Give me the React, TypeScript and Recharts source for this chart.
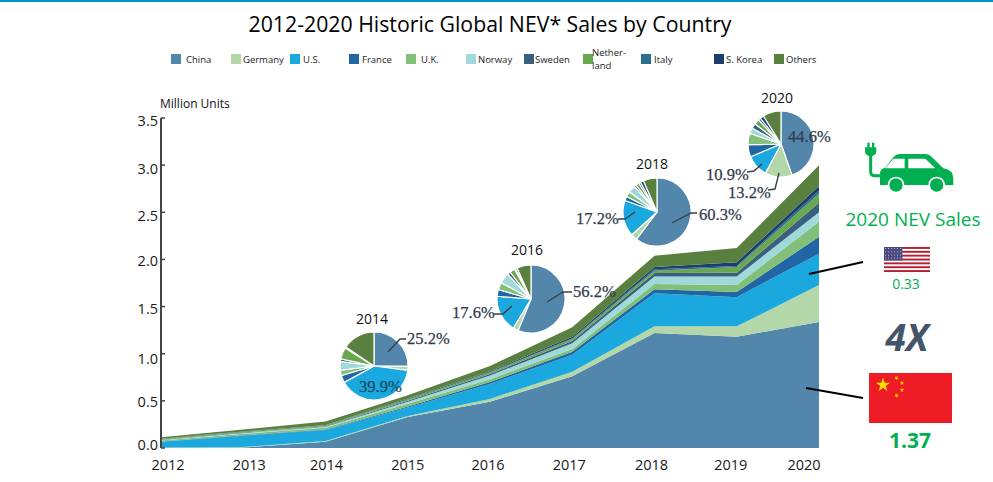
import React from "react";
import { AreaChart, Area, XAxis, YAxis, PieChart, Pie, Cell } from "recharts";

const years = ["2012", "2013", "2014", "2015", "2016", "2017", "2018", "2019", "2020"];
const seriesNames = ["China", "Germany", "U.S.", "France", "U.K.", "Norway", "Sweden", "Nether-land", "Italy", "S. Korea", "Others"];
const seriesColors = ["#5286ab", "#b3d7a8", "#1ba8de", "#2166a4", "#82bf79", "#9fd9d9", "#3a5f80", "#6aa84f", "#26708f", "#1d3f6e", "#5a8040"];

const china = [0.002, 0.005, 0.065, 0.33, 0.49, 0.76, 1.22, 1.18, 1.336];
const germany = [0.003, 0.005, 0.01, 0.01, 0.03, 0.05, 0.07, 0.11, 0.394];
const us = [0.06, 0.12, 0.115, 0.09, 0.16, 0.18, 0.35, 0.31, 0.33];
const france = [0.003, 0.005, 0.005, 0.01, 0.02, 0.03, 0.045, 0.055, 0.18];
const uk = [0.012, 0.015, 0.02, 0.03, 0.03, 0.03, 0.055, 0.075, 0.16];
const norway = [0.005, 0.01, 0.01, 0.02, 0.04, 0.06, 0.08, 0.09, 0.1];
const sweden = [0.003, 0.005, 0.005, 0.01, 0.015, 0.025, 0.035, 0.04, 0.1];
const netherland = [0.007, 0.005, 0.01, 0.015, 0.015, 0.02, 0.025, 0.06, 0.1];
const italy = [0.002, 0.002, 0.002, 0.005, 0.005, 0.01, 0.015, 0.01, 0.03];
const korea = [0.002, 0.003, 0.003, 0.005, 0.01, 0.015, 0.025, 0.04, 0.05];
const others = [0.016, 0.02, 0.035, 0.035, 0.055, 0.1, 0.12, 0.15, 0.22];
const allSeries = [china, germany, us, france, uk, norway, sweden, netherland, italy, korea, others];

const yTicks = [0, 0.5, 1, 1.5, 2, 2.5, 3, 3.5];

const share2014 = [25.2, 1.9, 39.9, 3.5, 2.5, 4.2, 1.2, 5.5, 0.3, 0.3, 15.5];
const share2016 = [56.2, 2.5, 17.6, 3.2, 3.5, 5, 1.5, 2.5, 0.5, 0.8, 6.7];
const share2018 = [60.3, 3, 17.2, 2, 2.5, 3.5, 1, 1.5, 1, 1.5, 6.5];
const share2020 = [44.6, 13.2, 10.9, 6, 5.5, 2.8, 2.5, 2.6, 1.2, 1.8, 8.9];

const usSales2020 = "0.33";
const chinaSales2020 = "1.37";

const rows = years.map((year, i) => {
  const row: Record<string, string | number> = { year };
  seriesNames.forEach((name, s) => { row[name] = allSeries[s][i]; });
  return row;
});

const SANS = "'Open Sans', sans-serif";
const SERIF = "'Liberation Serif', serif";
const GREEN = "#00b050";
const NOTE = "#333c4e";

const xLabelShift = [7, 6, 1, 0, -2, -3, -3, -6, -15];
const yLabelShift = [-3, 1, 5, 2, 2, 4, 4, 3];

const XTick = ({ x, y, payload, index }: any) => (
  <text x={x + xLabelShift[index]} y={y + 14} textAnchor="middle" fontSize={14.5} fontFamily={SANS} fill="#1a1a1a">
    {payload.value}
  </text>
);

const YTick = ({ x, y, payload, index }: any) => (
  <g>
    <line x1={x} x2={x + 4} y1={y} y2={y} stroke="#444" strokeWidth={1.5} />
    <text x={x - 3} y={y + yLabelShift[index]} dy={5} textAnchor="end" fontSize={14.5} fontFamily={SANS} fill="#1a1a1a">
      {Number(payload.value).toFixed(1)}
    </text>
  </g>
);

const MiniPie = ({ shares, cx, cy, r }: { shares: number[]; cx: number; cy: number; r: number }) => {
  const size = 2 * r + 6;
  const d = shares.map((value, i) => ({ name: seriesNames[i], value }));
  return (
    <div style={{ position: "absolute", left: cx - size / 2, top: cy - size / 2 }}>
      <PieChart width={size} height={size} margin={{ top: 0, right: 0, bottom: 0, left: 0 }}>
        <Pie data={d} dataKey="value" nameKey="name" cx="50%" cy="50%" innerRadius={0} outerRadius={r}
          startAngle={90} endAngle={-270} stroke="#fff" strokeWidth={1.2} isAnimationActive={false} label={false} labelLine={false}>
          {d.map((_, i) => <Cell key={i} fill={seriesColors[i]} />)}
        </Pie>
      </PieChart>
    </div>
  );
};

const legendSlots: [number, number][] = [
  [171, 186], [231, 243], [290, 303], [349, 362], [406, 421], [466, 478], [524, 535], [583, 592], [641, 654], [714, 726], [774, 786],
];

const Leader = ({ points }: { points: string }) => (
  <polyline points={points} fill="none" stroke="#3a3f4a" strokeWidth={1.4} />
);

const PctLabel = ({ x, y, children, fill = NOTE }: any) => (
  <text x={x} y={y} dy={5} fontFamily={SERIF} fontSize={16.5} stroke={fill} strokeWidth={0.25} fill={fill}>{children}</text>
);

const YearLabel = ({ x, y, children }: any) => (
  <text x={x} y={y} dy={5} textAnchor="middle" fontFamily={SANS} fontSize={14} fill="#111">{children}</text>
);

const starPoints = (cx: number, cy: number, r: number, rot = 0) => {
  const pts: string[] = [];
  for (let i = 0; i < 10; i++) {
    const rad = i % 2 === 0 ? r : r * 0.382;
    const a = -Math.PI / 2 + rot + (i * Math.PI) / 5;
    pts.push(`${(cx + rad * Math.cos(a)).toFixed(2)},${(cy + rad * Math.sin(a)).toFixed(2)}`);
  }
  return pts.join(" ");
};

const UsFlag = () => {
  const x = 884, y = 247, w = 46, h = 25;
  const sh = h / 13;
  return (
    <g>
      <rect x={x} y={y} width={w} height={h} fill="#fff" />
      {Array.from({ length: 7 }, (_, i) => (
        <rect key={i} x={x} y={y + i * 2 * sh} width={w} height={sh} fill="#b22234" />
      ))}
      <rect x={x} y={y} width={w * 0.4} height={sh * 7} fill="#4a4a80" />
      {Array.from({ length: 24 }, (_, i) => (
        <circle key={i} cx={x + 1.5 + (i % 6) * 3} cy={y + 1.5 + Math.floor(i / 6) * 3.2} r={0.5} fill="#d8d8e8" />
      ))}
    </g>
  );
};

const ChinaFlag = () => (
  <g>
    <rect x={869} y={373} width={83} height={50} fill="#ee1c25" />
    <polygon points={starPoints(883, 385, 7.5)} fill="#ffe000" />
    <polygon points={starPoints(896.5, 378, 2.4, 0.5)} fill="#ffe000" />
    <polygon points={starPoints(902, 383, 2.4, 1)} fill="#ffe000" />
    <polygon points={starPoints(902, 390, 2.4, 0)} fill="#ffe000" />
    <polygon points={starPoints(896.5, 395.5, 2.4, 0.5)} fill="#ffe000" />
  </g>
);

const CarIcon = () => (
  <g transform="translate(800,130) scale(0.3333)">
    <path d="M240,165 L240,130 Q240,116 256,113 L278,84 Q287,72 302,72 L375,72 Q387,72 396,82 L430,115 Q460,120 460,145 L460,165 Z" fill={GREEN} />
    <path d="M256,115 L280,86 L314,86 L314,115 Z" fill="#fff" />
    <path d="M325,86 L376,86 L406,115 L325,115 Z" fill="#fff" />
    <circle cx={288} cy={165} r={25} fill="#fff" />
    <circle cx={288} cy={165} r={20} fill={GREEN} />
    <circle cx={410} cy={165} r={25} fill="#fff" />
    <circle cx={410} cy={165} r={20} fill={GREEN} />
    <path d="M212,75 L212,125 Q212,137 225,137 L242,137" fill="none" stroke={GREEN} strokeWidth={9} />
    <path d="M195,52 L229,52 L229,62 Q229,78 212,78 Q195,78 195,62 Z" fill={GREEN} />
    <rect x={202} y={38} width={7} height={16} fill={GREEN} />
    <rect x={216} y={38} width={7} height={16} fill={GREEN} />
  </g>
);

export default function App() {
  return (
    <div style={{ position: "absolute", left: 0, top: 0, width: 993, height: 482, background: "#fff", overflow: "hidden" }}>
      <AreaChart width={993} height={482} data={rows} margin={{ top: 118, right: 174, bottom: 0, left: 0 }}>
        <XAxis dataKey="year" height={34} axisLine={false} tickLine={false} tick={<XTick />} interval={0} />
        <YAxis width={161} domain={[0, 3.5]} ticks={yTicks} tick={<YTick />} tickLine={false} tickSize={0} tickMargin={0}
          axisLine={{ stroke: "#444", strokeWidth: 2 }} interval={0} />
        {seriesNames.map((name, i) => (
          <Area key={name} type="linear" dataKey={name} stackId="sales" fill={seriesColors[i]} fillOpacity={1}
            stroke="none" dot={false} activeDot={false} isAnimationActive={false} />
        ))}
      </AreaChart>

      <MiniPie shares={share2014} cx={374} cy={366} r={34} />
      <MiniPie shares={share2016} cx={531} cy={299} r={34} />
      <MiniPie shares={share2018} cx={657} cy={212} r={34} />
      <MiniPie shares={share2020} cx={781} cy={144} r={33} />

      <svg width={993} height={482} style={{ position: "absolute", left: 0, top: 0, pointerEvents: "none" }}>
        <rect x={0} y={0} width={993} height={2} fill="#0099cc" />
        <text x={490} y={32} textAnchor="middle" fontFamily={SANS} fontSize={21} textLength={483} lengthAdjust="spacingAndGlyphs" fill="#000">
          2012-2020 Historic Global NEV* Sales by Country
        </text>

        {seriesNames.map((name, i) => {
          const [sx, tx] = legendSlots[i];
          const parts = name.includes("-") ? [name.slice(0, name.indexOf("-") + 1), name.slice(name.indexOf("-") + 1)] : [name];
          return (
            <g key={name}>
              <rect x={sx} y={54} width={10} height={10} fill={seriesColors[i]} />
              {parts.length === 1 ? (
                <text x={tx} y={63} fontFamily={SANS} fontSize={9.5} fill="#222">{parts[0]}</text>
              ) : (
                <text fontFamily={SANS} fontSize={9.5} fill="#222">
                  <tspan x={tx} y={56}>{parts[0]}</tspan>
                  <tspan x={tx} y={69}>{parts[1]}</tspan>
                </text>
              )}
            </g>
          );
        })}

        <text x={160} y={108} fontFamily={SANS} fontSize={12} fill="#111">Million Units</text>

        <YearLabel x={372} y={319}>2014</YearLabel>
        <Leader points="388,352 400,339 406,339" />
        <PctLabel x={407} y={339}>25.2%</PctLabel>
        <PctLabel x={359} y={387} fill="#174a66">39.9%</PctLabel>

        <YearLabel x={527} y={250}>2016</YearLabel>
        <Leader points="512,306 503,314 494,314" />
        <PctLabel x={452} y={313}>17.6%</PctLabel>
        <Leader points="547,302 563,292 572,292" />
        <PctLabel x={573} y={292}>56.2%</PctLabel>

        <YearLabel x={652} y={164}>2018</YearLabel>
        <Leader points="672,223 691,213 697,213" />
        <PctLabel x={699} y={215}>60.3%</PctLabel>
        <Leader points="635,212 625,219 618,219" />
        <PctLabel x={576} y={219}>17.2%</PctLabel>

        <YearLabel x={777} y={98}>2020</YearLabel>
        <PctLabel x={788} y={137}>44.6%</PctLabel>
        <Leader points="762,164 754,171 747,172" />
        <PctLabel x={706} y={175}>10.9%</PctLabel>
        <Leader points="779,173 775,189 768,190" />
        <PctLabel x={728} y={193}>13.2%</PctLabel>

        <CarIcon />
        <text x={913} y={226} textAnchor="middle" fontFamily={SANS} fontSize={19} fontWeight={500} fill={GREEN}>2020 NEV Sales</text>
        <UsFlag />
        <text x={906} y={289} textAnchor="middle" fontFamily={SANS} fontSize={14} fill={GREEN}>{usSales2020}</text>
        <text x={907} y={351} textAnchor="middle" fontFamily={SANS} fontSize={37} fontWeight={700} fontStyle="italic" fill="#44546a">4X</text>
        <ChinaFlag />
        <text x={910} y={448} textAnchor="middle" fontFamily={SANS} fontSize={21} fontWeight={700} fill={GREEN}>{chinaSales2020}</text>
        <line x1={809} y1={274} x2={863} y2={262} stroke="#000" strokeWidth={2} />
        <line x1={806} y1={388} x2={863} y2={398} stroke="#000" strokeWidth={2} />
      </svg>
    </div>
  );
}
